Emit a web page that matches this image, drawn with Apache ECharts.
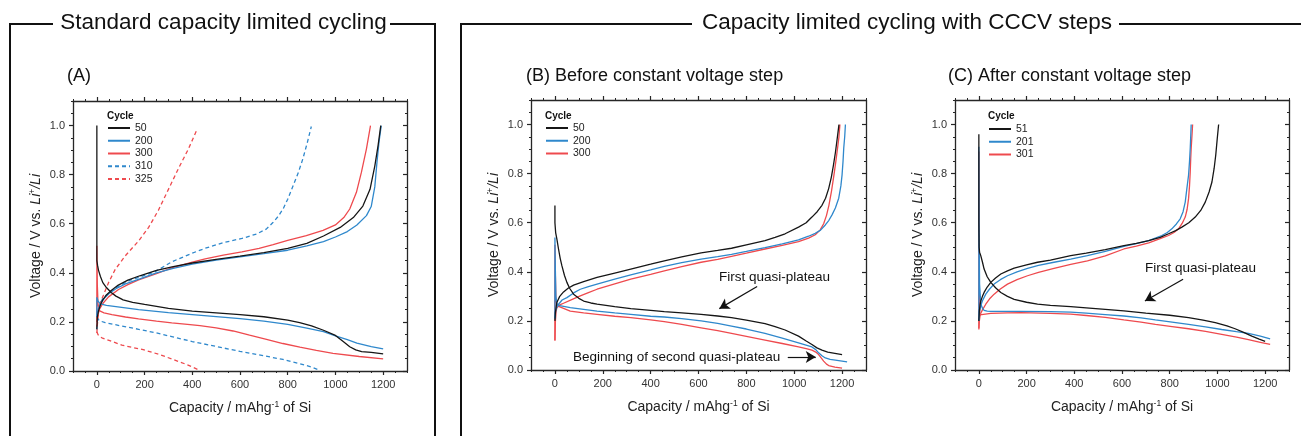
<!DOCTYPE html>
<html>
<head>
<meta charset="utf-8">
<script src="https://cdn.jsdelivr.net/npm/echarts@6/dist/echarts.min.js"></script>
<style>
html, body { margin: 0; padding: 0; background: #fff; }
#chart { width: 1301px; height: 436px; }
</style>
</head>
<body>
<div id="chart"></div>
<script>
// --- data: [capacity mAh/g, voltage V] ---
// (A) standard capacity limited cycling
var a50Dis = [[0,1.0],[0,0.45],[3,0.43],[7,0.41],[15,0.385],[25,0.36],[40,0.34],[60,0.32],[80,0.305],[110,0.29],[150,0.28],[200,0.271],[300,0.255],[400,0.244],[500,0.237],[600,0.23],[700,0.221],[800,0.207],[850,0.197],[900,0.184],[950,0.166],[1000,0.145],[1030,0.122],[1060,0.099],[1085,0.086],[1110,0.079],[1150,0.076],[1200,0.07]];
var a50Chg = [[0,0.17],[2,0.22],[7,0.245],[15,0.27],[25,0.29],[40,0.31],[60,0.328],[90,0.35],[130,0.37],[180,0.388],[250,0.41],[320,0.425],[400,0.44],[500,0.455],[600,0.468],[700,0.482],[800,0.5],[880,0.52],[950,0.55],[1020,0.585],[1075,0.625],[1115,0.672],[1145,0.74],[1165,0.835],[1179,0.92],[1190,1.0]];
var a200Dis = [[0,0.22],[0,0.3],[5,0.285],[15,0.273],[40,0.267],[80,0.262],[175,0.25],[300,0.238],[450,0.226],[600,0.213],[700,0.203],[800,0.19],[880,0.175],[950,0.16],[1000,0.143],[1050,0.128],[1090,0.114],[1150,0.099],[1200,0.09]];
var a200Chg = [[0,0.22],[5,0.25],[15,0.272],[30,0.295],[50,0.315],[80,0.335],[120,0.355],[180,0.375],[250,0.4],[320,0.418],[400,0.435],[500,0.452],[600,0.465],[700,0.478],[800,0.492],[880,0.51],[950,0.527],[1000,0.546],[1050,0.568],[1090,0.595],[1130,0.633],[1150,0.67],[1165,0.75],[1175,0.86],[1183,0.935],[1192,1.0]];
var a300Dis = [[0,0.2],[0,0.51],[2,0.35],[5,0.27],[12,0.245],[30,0.237],[63,0.23],[120,0.22],[175,0.212],[250,0.203],[314,0.196],[380,0.19],[432,0.185],[500,0.176],[571,0.163],[640,0.146],[711,0.129],[780,0.112],[851,0.097],[920,0.084],[990,0.072],[1100,0.059],[1200,0.049]];
var a300Chg = [[0,0.18],[3,0.22],[10,0.25],[25,0.275],[49,0.302],[91,0.332],[130,0.352],[175,0.371],[250,0.397],[314,0.42],[400,0.444],[454,0.457],[530,0.472],[608,0.485],[680,0.5],[739,0.515],[800,0.532],[878,0.552],[948,0.573],[1000,0.595],[1035,0.625],[1060,0.66],[1088,0.728],[1109,0.81],[1130,0.905],[1147,1.0]];
var a310Dis = [[0,0.22],[10,0.205],[35,0.197],[100,0.184],[175,0.17],[250,0.155],[314,0.14],[400,0.12],[500,0.1],[600,0.08],[700,0.062],[780,0.047],[850,0.03],[900,0.016],[935,0.003]];
var a310Chg = [[0,0.17],[3,0.24],[10,0.27],[25,0.295],[50,0.318],[90,0.345],[140,0.37],[200,0.39],[240,0.402],[314,0.445],[400,0.48],[454,0.5],[530,0.523],[608,0.54],[669,0.558],[710,0.578],[739,0.606],[760,0.63],[781,0.661],[800,0.7],[823,0.756],[845,0.81],[864,0.866],[882,0.93],[899,0.996]];
var a325Dis = [[0,0.16],[5,0.148],[21,0.135],[54,0.124],[105,0.105],[194,0.087],[260,0.068],[320,0.047],[380,0.025],[430,0.003]];
var a325Chg = [[0,0.155],[3,0.2],[7,0.24],[15,0.28],[28,0.31],[49,0.36],[77,0.414],[119,0.469],[175,0.53],[217,0.585],[258,0.655],[300,0.74],[342,0.825],[384,0.905],[419,0.982]];

// (B) before constant voltage step
var b50Dis = [[0,0.67],[0,0.6],[3,0.56],[8,0.534],[15,0.493],[22,0.455],[29,0.425],[40,0.385],[50,0.357],[62,0.332],[78,0.309],[100,0.292],[120,0.281],[150,0.273],[176,0.268],[250,0.258],[317,0.25],[400,0.243],[457,0.238],[530,0.233],[611,0.227],[680,0.22],[738,0.213],[800,0.203],[878,0.189],[920,0.177],[962,0.163],[1018,0.138],[1050,0.118],[1074,0.104],[1095,0.09],[1116,0.081],[1140,0.073],[1158,0.07],[1200,0.063]];
var b50Chg = [[0,0.2],[2,0.235],[8,0.275],[20,0.3],[36,0.318],[55,0.333],[78,0.346],[120,0.36],[176,0.377],[250,0.395],[317,0.411],[400,0.431],[457,0.445],[530,0.461],[611,0.477],[680,0.487],[738,0.496],[800,0.51],[878,0.527],[920,0.54],[962,0.555],[1018,0.582],[1050,0.6],[1074,0.623],[1096,0.645],[1116,0.671],[1131,0.7],[1144,0.739],[1155,0.785],[1164,0.835],[1172,0.885],[1178,0.93],[1187,1.0]];
var b200Dis = [[0,0.21],[0,0.54],[2,0.4],[4,0.3],[8,0.27],[20,0.262],[64,0.254],[120,0.247],[176,0.24],[250,0.233],[317,0.227],[400,0.219],[457,0.216],[530,0.209],[611,0.2],[680,0.19],[738,0.179],[800,0.167],[878,0.149],[950,0.13],[1018,0.111],[1074,0.094],[1090,0.083],[1102,0.07],[1116,0.058],[1130,0.049],[1150,0.043],[1172,0.04],[1200,0.036],[1221,0.033]];
var b200Chg = [[0,0.21],[3,0.24],[8,0.255],[15,0.268],[30,0.285],[50,0.295],[80,0.315],[106,0.329],[140,0.34],[176,0.35],[250,0.37],[317,0.388],[400,0.408],[457,0.422],[530,0.437],[611,0.452],[680,0.462],[738,0.471],[800,0.483],[878,0.499],[950,0.514],[1018,0.53],[1060,0.545],[1088,0.557],[1110,0.57],[1130,0.591],[1145,0.61],[1158,0.632],[1172,0.66],[1186,0.7],[1195,0.75],[1200,0.795],[1204,0.85],[1207,0.904],[1211,0.95],[1214,1.0]];
var b300Dis = [[0,0.12],[0,0.51],[2,0.38],[4,0.29],[8,0.262],[15,0.254],[64,0.24],[120,0.233],[176,0.227],[250,0.219],[317,0.213],[400,0.204],[457,0.197],[530,0.186],[611,0.172],[680,0.16],[738,0.149],[800,0.137],[878,0.122],[950,0.108],[1018,0.094],[1050,0.087],[1074,0.081],[1090,0.073],[1102,0.063],[1112,0.05],[1123,0.036],[1135,0.024],[1144,0.018],[1170,0.012],[1200,0.008]];
var b300Chg = [[0,0.12],[2,0.2],[5,0.24],[8,0.254],[20,0.265],[36,0.272],[70,0.287],[106,0.302],[140,0.315],[176,0.329],[250,0.351],[317,0.37],[400,0.39],[457,0.404],[530,0.421],[611,0.439],[680,0.451],[738,0.463],[800,0.476],[878,0.493],[950,0.508],[1018,0.523],[1060,0.537],[1088,0.551],[1108,0.57],[1123,0.596],[1135,0.63],[1145,0.671],[1156,0.73],[1166,0.794],[1174,0.85],[1181,0.903],[1187,0.95],[1191,1.0]];

// (C) after constant voltage step
var c51Dis = [[0,0.96],[0,0.6],[1,0.5],[3,0.48],[8,0.466],[15,0.44],[22,0.411],[35,0.38],[50,0.357],[70,0.335],[92,0.316],[120,0.3],[148,0.288],[200,0.276],[246,0.268],[300,0.263],[385,0.258],[450,0.253],[530,0.247],[608,0.241],[700,0.232],[800,0.223],[879,0.213],[940,0.203],[991,0.193],[1040,0.18],[1074,0.168],[1110,0.153],[1144,0.138],[1175,0.126],[1200,0.117]];
var c51Chg = [[0,0.2],[2,0.24],[5,0.265],[8,0.281],[15,0.3],[22,0.316],[35,0.338],[50,0.357],[70,0.375],[92,0.391],[120,0.404],[148,0.415],[200,0.428],[246,0.439],[300,0.448],[385,0.466],[450,0.476],[530,0.49],[608,0.507],[660,0.516],[712,0.527],[760,0.54],[795,0.555],[825,0.568],[851,0.582],[880,0.6],[907,0.623],[930,0.65],[949,0.684],[965,0.725],[977,0.766],[986,0.82],[993,0.876],[999,0.94],[1005,1.0]];
var c201Dis = [[0,0.2],[0,0.91],[1,0.6],[3,0.35],[8,0.27],[15,0.252],[22,0.243],[35,0.24],[50,0.239],[176,0.239],[300,0.238],[385,0.236],[450,0.232],[530,0.226],[608,0.22],[680,0.212],[740,0.204],[810,0.195],[879,0.186],[950,0.176],[1018,0.165],[1080,0.156],[1130,0.149],[1180,0.138],[1221,0.127]];
var c201Chg = [[0,0.2],[3,0.24],[8,0.262],[15,0.282],[29,0.309],[45,0.33],[64,0.35],[90,0.368],[120,0.384],[160,0.4],[204,0.414],[250,0.426],[315,0.439],[385,0.452],[455,0.466],[530,0.483],[608,0.504],[660,0.515],[712,0.527],[767,0.548],[790,0.56],[809,0.575],[828,0.595],[844,0.616],[856,0.645],[865,0.684],[872,0.74],[879,0.794],[883,0.85],[886,0.903],[888,0.95],[890,1.0]];
var c301Dis = [[0,0.17],[0,0.89],[1,0.6],[2,0.3],[4,0.225],[8,0.223],[50,0.231],[120,0.233],[176,0.234],[300,0.231],[385,0.228],[450,0.222],[530,0.214],[608,0.204],[680,0.195],[740,0.186],[810,0.177],[879,0.168],[950,0.157],[1018,0.145],[1080,0.134],[1130,0.124],[1180,0.113],[1221,0.104]];
var c301Chg = [[0,0.165],[2,0.2],[5,0.22],[8,0.231],[15,0.245],[29,0.268],[45,0.29],[64,0.309],[90,0.33],[120,0.35],[160,0.368],[204,0.384],[250,0.398],[315,0.414],[385,0.43],[455,0.445],[530,0.465],[608,0.493],[660,0.505],[712,0.518],[760,0.535],[795,0.548],[818,0.56],[837,0.575],[852,0.597],[865,0.623],[873,0.655],[879,0.698],[883,0.75],[886,0.807],[888,0.86],[890,0.903],[893,0.95],[896,1.0]];

// tick labels
var capTicks = [0, 200, 400, 600, 800, 1000, 1200];
var voltTicks = [0, 0.2, 0.4, 0.6, 0.8, 1.0];

var BLACK = '#161616', BLUE = '#2f88cc', RED = '#ee4a4e';
var FONT = '"Liberation Sans", Arial, sans-serif';
var AXIS = '#262626';

var grids = [
    {left: 73, top: 101, width: 334, height: 270},
    {left: 531, top: 100, width: 335, height: 270},
    {left: 955, top: 100, width: 334, height: 270}
];

var xAxes = [], yAxes = [];
grids.forEach(function (g, gi) {
    var line = {show: true, onZero: false, lineStyle: {color: AXIS, width: 1.3}};
    var noLine = {show: false, onZero: false};
    // bottom: major ticks + labels, then minor ticks
    xAxes.push({
        gridIndex: gi, type: 'value', position: 'bottom', min: -100, max: 1300,
        axisLine: line,
        axisTick: {show: true, length: 4, customValues: capTicks, lineStyle: {color: AXIS, width: 1.2}},
        axisLabel: {customValues: capTicks, fontSize: 11, color: '#333', margin: 8, fontFamily: FONT,
            formatter: function (v) { return String(v); }},
        splitLine: {show: false},
        name: 'Capacity / mAhg{sup|-1} of Si', nameLocation: 'middle', nameGap: 29,
        nameTextStyle: {fontSize: 14, color: '#222', fontFamily: FONT, lineHeight: 17,
            rich: {sup: {fontSize: 8.5, verticalAlign: 'top', color: '#222', fontFamily: FONT, lineHeight: 10}}}
    });
    xAxes.push({
        gridIndex: gi, type: 'value', position: 'bottom', min: -100, max: 1300, interval: 50,
        axisLine: noLine, axisTick: {show: true, length: 2, lineStyle: {color: AXIS, width: 1}},
        axisLabel: {show: false}, splitLine: {show: false}
    });
    xAxes.push({
        gridIndex: gi, type: 'value', position: 'top', min: -100, max: 1300,
        axisLine: line,
        axisTick: {show: true, length: 4, customValues: capTicks, lineStyle: {color: AXIS, width: 1.2}},
        axisLabel: {show: false}, splitLine: {show: false}
    });
    xAxes.push({
        gridIndex: gi, type: 'value', position: 'top', min: -100, max: 1300, interval: 50,
        axisLine: noLine, axisTick: {show: true, length: 2, lineStyle: {color: AXIS, width: 1}},
        axisLabel: {show: false}, splitLine: {show: false}
    });
    // left
    yAxes.push({
        gridIndex: gi, type: 'value', position: 'left', min: 0, max: 1.1,
        axisLine: line,
        axisTick: {show: true, length: 4, customValues: voltTicks, lineStyle: {color: AXIS, width: 1.2}},
        axisLabel: {customValues: voltTicks, fontSize: 11, color: '#333', margin: 8, fontFamily: FONT,
            formatter: function (v) { return v.toFixed(1); }},
        splitLine: {show: false},
        name: 'Voltage / V vs. {i|Li}{sup|+}{i|/Li}', nameLocation: 'middle', nameGap: 28, nameRotate: 90,
        nameTextStyle: {fontSize: 14, color: '#222', fontFamily: FONT, lineHeight: 17,
            rich: {
                i: {fontStyle: 'italic', fontSize: 14, color: '#222', fontFamily: FONT, lineHeight: 17},
                sup: {fontSize: 8.5, verticalAlign: 'top', color: '#222', fontFamily: FONT, lineHeight: 10}
            }}
    });
    yAxes.push({
        gridIndex: gi, type: 'value', position: 'left', min: 0, max: 1.1, interval: 0.05,
        axisLine: noLine, axisTick: {show: true, length: 2, lineStyle: {color: AXIS, width: 1}},
        axisLabel: {show: false}, splitLine: {show: false}
    });
    // right, ticks inside
    yAxes.push({
        gridIndex: gi, type: 'value', position: 'right', min: 0, max: 1.1,
        axisLine: line,
        axisTick: {show: true, inside: true, length: 4, customValues: voltTicks, lineStyle: {color: AXIS, width: 1.2}},
        axisLabel: {show: false}, splitLine: {show: false}
    });
    yAxes.push({
        gridIndex: gi, type: 'value', position: 'right', min: 0, max: 1.1, interval: 0.05,
        axisLine: noLine, axisTick: {show: true, inside: true, length: 2, lineStyle: {color: AXIS, width: 1}},
        axisLabel: {show: false}, splitLine: {show: false}
    });
});

function curve(gi, name, data, color, dashed, arrows) {
    var s = {
        type: 'line', name: name, xAxisIndex: gi * 4, yAxisIndex: gi * 4,
        data: data, symbol: 'none', showSymbol: false, silent: true,
        lineStyle: {color: color, width: 1.3, type: dashed ? [4, 3] : 'solid'},
        itemStyle: {color: color}
    };
    if (arrows) {
        s.markLine = {
            silent: true, symbol: ['none', 'arrow'], symbolSize: [9, 10],
            label: {show: false},
            lineStyle: {color: '#111', width: 1.2, type: 'solid'},
            data: arrows.map(function (a) { return [{coord: a[0]}, {coord: a[1]}]; })
        };
    }
    return s;
}

var series = [
    curve(0, 'A325', a325Dis, RED, true), curve(0, 'A325', a325Chg, RED, true),
    curve(0, 'A310', a310Dis, BLUE, true), curve(0, 'A310', a310Chg, BLUE, true),
    curve(0, 'A300', a300Dis, RED), curve(0, 'A300', a300Chg, RED),
    curve(0, 'A200', a200Dis, BLUE), curve(0, 'A200', a200Chg, BLUE),
    curve(0, 'A50', a50Dis, BLACK), curve(0, 'A50', a50Chg, BLACK),

    curve(1, 'B300', b300Dis, RED), curve(1, 'B300', b300Chg, RED),
    curve(1, 'B200', b200Dis, BLUE), curve(1, 'B200', b200Chg, BLUE),
    curve(1, 'B50', b50Dis, BLACK, false, [[[845, 0.34], [687, 0.25]], [[973, 0.053], [1090, 0.053]]]),
    curve(1, 'B50', b50Chg, BLACK),

    curve(2, 'C301', c301Dis, RED), curve(2, 'C301', c301Chg, RED),
    curve(2, 'C201', c201Dis, BLUE), curve(2, 'C201', c201Chg, BLUE),
    curve(2, 'C51', c51Dis, BLACK, false, [[[856, 0.37], [696, 0.281]]]),
    curve(2, 'C51', c51Chg, BLACK)
];

function legend(left, top, names) {
    return {
        left: left, top: top, orient: 'vertical', data: names, padding: 0,
        itemWidth: 22, itemHeight: 12, itemGap: 0.75, selectedMode: false,
        itemStyle: {opacity: 0},
        formatter: function (n) { return n.slice(1); },
        textStyle: {fontSize: 10.5, color: '#222', fontFamily: FONT, lineHeight: 12}
    };
}

function txt(x, y, text, size, opt) {
    opt = opt || {};
    return {
        type: 'text', x: x, y: y, silent: true,
        style: {
            text: text, fill: '#111', fontSize: size, fontFamily: FONT,
            fontWeight: opt.bold ? 'bold' : 'normal',
            align: opt.align || 'left', verticalAlign: 'middle'
        }
    };
}

function frame(points) {
    return {type: 'polyline', silent: true, shape: {points: points},
        style: {stroke: '#111', lineWidth: 2, fill: null}};
}

var chart = echarts.init(document.getElementById('chart'));
chart.setOption({
    animation: false,
    backgroundColor: '#fff',
    grid: grids,
    xAxis: xAxes,
    yAxis: yAxes,
    legend: [
        legend(107, 122, ['A50', 'A200', 'A300', 'A310', 'A325']),
        legend(545, 122, ['B50', 'B200', 'B300']),
        legend(988, 123, ['C51', 'C201', 'C301'])
    ],
    series: series,
    graphic: [
        frame([[53, 24], [10, 24], [10, 436]]),
        frame([[390, 24], [435, 24], [435, 436]]),
        frame([[692, 24], [461, 24], [461, 436]]),
        frame([[1119, 24], [1301, 24]]),
        txt(223.5, 23, 'Standard capacity limited cycling', 22.5, {align: 'center'}),
        txt(907, 23, 'Capacity limited cycling with CCCV steps', 22.5, {align: 'center'}),
        txt(67, 76, '(A)', 18),
        txt(526, 76, '(B) Before constant voltage step', 18),
        txt(948, 76, '(C) After constant voltage step', 18),
        txt(107, 116, 'Cycle', 10, {bold: true}),
        txt(545, 116, 'Cycle', 10, {bold: true}),
        txt(988, 116, 'Cycle', 10, {bold: true}),
        txt(719, 277, 'First quasi-plateau', 13.5),
        txt(573, 357, 'Beginning of second quasi-plateau', 13.5),
        txt(1145, 268, 'First quasi-plateau', 13.5)
    ]
});
</script>
</body>
</html>
